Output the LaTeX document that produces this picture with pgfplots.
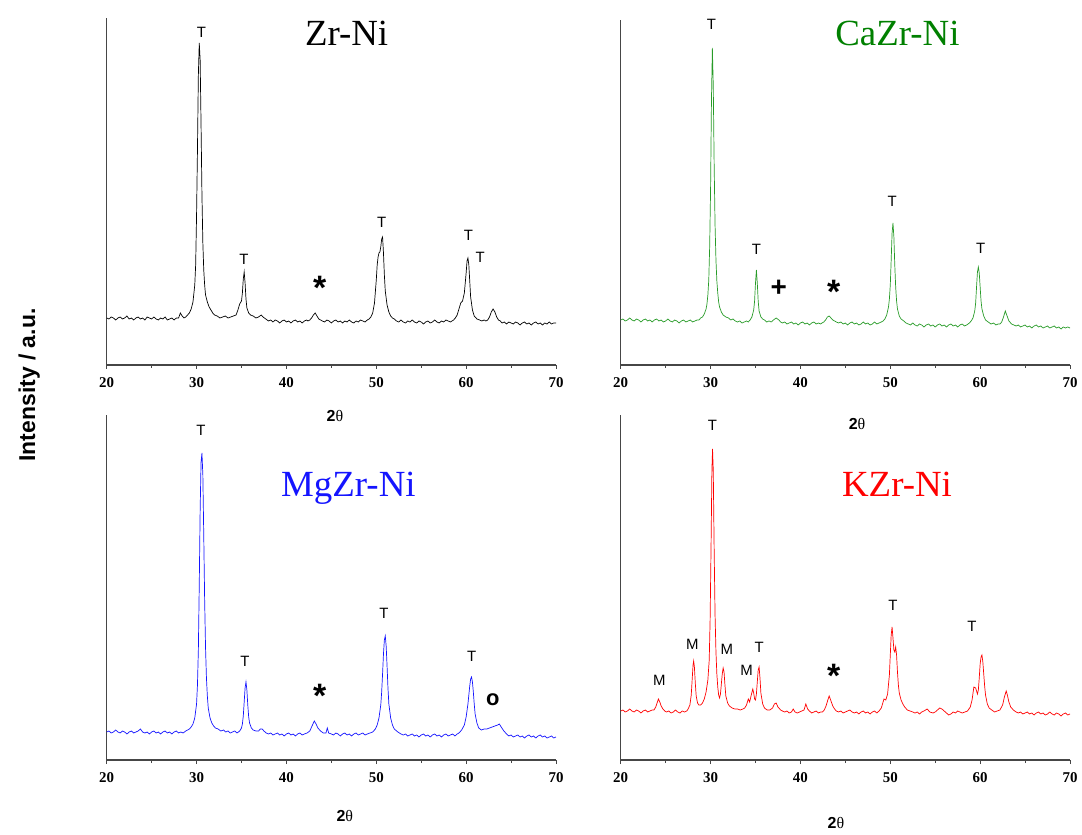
\documentclass[border=0pt]{standalone}
\usepackage{fontspec}
\setmainfont{Liberation Serif}
\newfontfamily\sansf{Liberation Sans}
\usepackage{pgfplots}
\pgfplotsset{compat=1.18}

\definecolor{axgray}{RGB}{70,70,70}
\definecolor{zrblack}{RGB}{0,0,0}
\definecolor{cagreen}{RGB}{40,155,40}
\definecolor{catitle}{RGB}{0,128,0}
\definecolor{mgblue}{RGB}{20,20,255}
\definecolor{kred}{RGB}{255,0,0}

\pgfplotsset{
  xrdpanel/.style={
    scale only axis, width=449.3bp, height=345bp,
    xmin=20, xmax=70, ymin=0, ymax=345,
    axis lines=left, axis line style={-, line width=1.2bp, axgray},
    xtick={20,30,40,50,60,70}, minor xtick={25,35,45,55,65}, ytick=\empty,
    tick align=outside, major tick length=4bp, minor tick length=3bp,
    tick style={axgray, line width=1bp},
    tick label style={font=\fontsize{15}{17}\selectfont\bfseries},
    xticklabel style={yshift=-5bp},
    /pgf/number format/assume math mode=true,
    clip=false, anchor=south west,
  },
}
\tikzset{
  pk/.style={font=\sansf\fontsize{15}{17}\selectfont, inner sep=0pt, anchor=center},
  ast/.style={font=\sansf\bfseries\fontsize{34}{36}\selectfont, inner sep=0pt, anchor=base, yshift=-19.5bp},
  pls/.style={font=\sansf\bfseries\fontsize{28}{30}\selectfont, inner sep=0pt, anchor=base, yshift=-9.7bp},
  ring/.style={font=\sansf\bfseries\fontsize{22}{24}\selectfont, inner sep=0pt, anchor=base, yshift=-5.7bp},
  ttl/.style={font=\fontsize{37}{40}\selectfont, inner sep=0pt, anchor=base},
  twotheta/.style={font=\fontsize{16}{18}\selectfont, inner sep=0pt, anchor=center},
}
\newcommand{\twoth}{{\sansf\bfseries 2}θ}

\begin{document}
\begin{tikzpicture}
\useasboundingbox (0,0) rectangle (1082bp,835bp);

% intensity label shared by all four patterns
\node[rotate=90, anchor=base, inner sep=0pt, font=\sansf\bfseries\fontsize{23}{25}\selectfont] at (35bp,450bp) {Intensity / a.u.};

% ---------------- Zr-Ni ----------------
\begin{axis}[xrdpanel, at={(106.7bp,470bp)}, height=347bp, ymax=347]
\addplot[zrblack, line width=0.7bp] coordinates {
(20,47)(20.25,46)(20.5,48)(20.75,47)(21,45)(21.25,47)(21.5,48)(21.75,46)(22,47)(22.25,49)(22.5,46)(22.75,47)(23,45)(23.25,47)(23.5,48)(23.75,46)(24,47)(24.25,45)(24.5,48)(24.75,47)(25,46)(25.25,48)(25.5,46)(25.75,45)(26,47)(26.25,46)(26.5,48)(26.75,45)(27,46)(27.25,47)(27.5,45)(27.75,47)
(28,47)(28.2,52)(28.4,49)(28.6,47)(28.8,48)(29,50)(29.2,52)(29.4,56)(29.6,63)(29.8,80)(29.9,100)(30,150)(30.1,215)(30.2,290)(30.3,322)(30.4,305)(30.5,240)(30.6,170)(30.7,122)(30.8,95)(30.9,80)(31,70)(31.2,63)(31.4,58)(31.6,55)(31.8,52)(32,50)(32.3,49)(32.6,47)(32.9,48)(33.2,49)(33.5,47)(33.8,48)(34.1,49)
(34.4,50)(34.6,55)(34.8,61)(35,64)(35.1,72)(35.2,86)(35.3,93)(35.4,82)(35.5,66)(35.6,57)(35.8,52)(36,50)(36.3,49)(36.6,47)(36.9,48)(37.2,50)(37.4,48)
(37.7,46)(38,44)(38.25,45)(38.5,43)(38.75,45)(39,44)(39.25,42)(39.5,44)(39.75,45)(40,43)(40.25,44)(40.5,42)(40.75,44)(41,45)(41.25,43)(41.5,44)(41.75,42)(42,44)(42.25,45)(42.4,44)
(42.6,45)(42.8,47)(43,50)(43.2,52)(43.4,49)(43.6,46)(43.8,45)
(44,44)(44.25,43)(44.5,45)(44.75,44)(45,42)(45.25,44)(45.5,45)(45.75,43)(46,44)(46.25,42)(46.5,44)(46.75,43)(47,45)(47.25,43)(47.5,42)(47.75,44)(48,43)(48.25,45)(48.5,44)(48.75,43)
(49,45)(49.2,46)(49.4,48)(49.6,52)(49.8,62)(50,85)(50.1,100)(50.2,108)(50.3,112)(50.4,113)(50.5,118)(50.6,126)(50.7,128)(50.8,112)(50.9,90)(51,74)(51.2,60)(51.4,53)(51.6,49)(51.8,47)(52,46)
(52.25,44)(52.5,43)(52.75,45)(53,43)(53.25,42)(53.5,44)(53.75,43)(54,45)(54.25,43)(54.5,42)(54.75,44)(55,43)(55.25,41)(55.5,43)(55.75,44)(56,42)(56.25,43)(56.5,45)(56.75,43)(57,42)(57.25,44)(57.5,43)(57.75,45)(58,44)(58.25,43)
(58.6,45)(58.8,47)(59,50)(59.2,56)(59.4,62)(59.6,64)(59.8,72)(60,92)(60.1,104)(60.2,107)(60.3,100)(60.4,84)(60.5,68)(60.7,55)(60.9,49)(61.2,46)(61.5,45)
(61.75,44)(62,45)(62.2,44)(62.4,45)(62.6,48)(62.8,53)(63,56)(63.2,53)(63.4,48)(63.6,45)
(63.8,44)(64,42)(64.25,43)(64.5,41)(64.75,43)(65,42)(65.25,41)(65.5,43)(65.75,42)(66,40)(66.25,42)(66.5,43)(66.75,41)(67,42)(67.25,40)(67.5,42)(67.75,43)(68,41)(68.25,42)(68.5,40)(68.75,42)(69,41)(69.25,43)(69.5,41)(69.75,42)(70,42)
};
\node[ttl] at (axis cs:46.7,319.3) {Zr-Ni};
\node[pk] at (axis cs:30.55,333) {T};
\node[pk] at (axis cs:35.26,105.7) {T};
\node[ast] at (axis cs:43.7,85) {*};
\node[pk] at (axis cs:50.6,143) {T};
\node[pk] at (axis cs:60.26,130) {T};
\node[pk] at (axis cs:61.55,107.7) {T};
\node[twotheta] at (axis cs:45.4,-51) {\twoth};
\end{axis}

% ---------------- CaZr-Ni ----------------
\begin{axis}[xrdpanel, at={(620.7bp,470bp)}]
\addplot[cagreen, line width=0.7bp] coordinates {
(20,45)(20.25,46)(20.5,44)(20.75,45)(21,47)(21.25,45)(21.5,44)(21.75,46)(22,45)(22.25,43)(22.5,45)(22.75,46)(23,44)(23.25,45)(23.5,43)(23.75,45)(24,46)(24.25,44)(24.5,45)(24.75,43)(25,44)(25.25,46)(25.5,44)(25.75,43)(26,45)(26.25,44)(26.5,42)(26.75,44)(27,45)(27.25,43)(27.5,44)(27.75,45)(28,43)(28.25,44)(28.5,45)
(28.7,45)(28.9,47)(29.1,48)(29.3,51)(29.5,56)(29.6,61)(29.7,70)(29.8,85)(29.9,118)(30,175)(30.1,265)(30.2,317)(30.3,280)(30.4,200)(30.5,140)(30.6,105)(30.7,84)(30.8,72)(30.9,63)(31,58)(31.2,53)(31.4,50)(31.7,48)(32,47)
(32.25,45)(32.5,46)(32.75,44)(33,43)(33.25,44)(33.5,42)(33.75,43)(34,44)(34.2,43)(34.4,45)
(34.6,48)(34.8,55)(34.9,64)(35,82)(35.1,95)(35.2,82)(35.3,64)(35.4,54)(35.6,48)(35.8,46)(36,45)
(36.25,43)(36.5,44)(36.75,43)(37,45)(37.3,47)(37.6,45)(37.8,43)(38,42)(38.25,43)(38.5,41)(38.75,42)(39,43)(39.25,41)(39.5,42)(39.75,40)(40,42)(40.25,43)(40.5,41)(40.75,42)(41,40)(41.25,42)(41.5,43)(41.75,41)(42,42)(42.25,41)(42.4,42)
(42.6,43)(42.8,45)(43,48)(43.2,49)(43.4,47)(43.6,45)(43.8,44)(44,43)
(44.25,42)(44.5,43)(44.75,41)(45,42)(45.25,40)(45.5,42)(45.75,43)(46,41)(46.25,42)(46.5,40)(46.75,41)(47,43)(47.25,41)(47.5,42)(47.75,40)(48,41)(48.25,43)(48.5,41)(48.75,42)(49,43)
(49.2,44)(49.4,46)(49.6,50)(49.8,58)(49.9,66)(50,80)(50.1,105)(50.2,132)(50.3,142)(50.4,128)(50.5,100)(50.6,78)(50.7,64)(50.8,56)(51,49)(51.2,46)(51.5,44)
(51.75,42)(52,41)(52.25,40)(52.5,42)(52.75,40)(53,39)(53.25,41)(53.5,40)(53.75,38)(54,40)(54.25,41)(54.5,39)(54.75,40)(55,38)(55.25,40)(55.5,41)(55.75,39)(56,40)(56.25,38)(56.5,40)(56.75,41)(57,39)(57.25,40)(57.5,38)(57.75,40)(58,41)(58.25,39)(58.5,40)
(58.8,42)(59,44)(59.2,47)(59.4,54)(59.5,62)(59.6,78)(59.7,93)(59.8,98)(59.9,92)(60,78)(60.1,64)(60.2,56)(60.4,49)(60.6,45)(60.9,43)
(61.2,41)(61.5,42)(61.75,40)(62,41)(62.2,41)(62.4,43)(62.6,48)(62.8,54)(63,49)(63.2,44)(63.5,41)
(63.75,40)(64,39)(64.25,40)(64.5,38)(64.75,39)(65,40)(65.25,38)(65.5,39)(65.75,37)(66,39)(66.25,40)(66.5,38)(66.75,39)(67,37)(67.25,38)(67.5,39)(67.75,37)(68,38)(68.25,39)(68.5,37)(68.75,38)(69,36)(69.25,38)(69.5,37)(69.75,38)(70,37)
};
\node[ttl, text=catitle] at (axis cs:50.8,319.3) {CaZr-Ni};
\node[pk] at (axis cs:30.1,341) {T};
\node[pk] at (axis cs:35.1,115.7) {T};
\node[pls] at (axis cs:37.6,78.3) {+};
\node[ast] at (axis cs:43.7,80.7) {*};
\node[pk] at (axis cs:50.2,163.3) {T};
\node[pk] at (axis cs:60.05,116.7) {T};
\node[twotheta] at (axis cs:46.3,-59) {\twoth};
\end{axis}

% ---------------- MgZr-Ni ----------------
\begin{axis}[xrdpanel, at={(106.7bp,75bp)}]
\addplot[mgblue, line width=0.7bp] coordinates {
(20,28)(20.25,29)(20.5,27)(20.75,28)(21,30)(21.25,28)(21.5,27)(21.75,29)(22,28)(22.25,26)(22.5,28)(22.75,29)(23,27)(23.25,28)(23.5,29)(23.75,31)(24,28)(24.25,27)(24.5,28)(24.75,26)(25,28)(25.25,29)(25.5,27)(25.75,28)(26,26)(26.25,28)(26.5,29)(26.75,27)(27,28)(27.25,26)(27.5,28)(27.75,29)(28,27)(28.25,28)(28.5,27)
(28.8,29)(29,30)(29.2,31)(29.4,33)(29.6,36)(29.8,42)(30,56)(30.1,75)(30.2,110)(30.3,175)(30.4,250)(30.5,298)(30.6,307)(30.7,285)(30.8,225)(30.9,160)(31,112)(31.1,82)(31.2,64)(31.3,52)(31.5,42)(31.7,37)(31.9,34)(32.1,32)(32.4,31)
(32.7,29)(33,30)(33.25,28)(33.5,29)(33.75,27)(34,28)(34.25,29)(34.5,27)(34.8,29)
(35,32)(35.1,36)(35.2,44)(35.3,58)(35.4,72)(35.5,78)(35.6,70)(35.7,55)(35.8,43)(35.9,37)(36.1,32)(36.3,30)(36.6,29)(36.9,29)(37.1,31)(37.3,31)(37.5,29)
(37.75,27)(38,26)(38.25,27)(38.5,25)(38.75,26)(39,27)(39.25,25)(39.5,26)(39.75,24)(40,26)(40.25,27)(40.5,25)(40.75,26)(41,24)(41.25,26)(41.5,27)(41.75,25)(42,26)
(42.3,27)(42.6,29)(42.8,33)(43,37)(43.1,39)(43.3,36)(43.5,32)(43.8,29)(44.1,27)(44.4,27)(44.55,32)(44.7,27)
(45,26)(45.25,25)(45.5,27)(45.75,26)(46,24)(46.25,26)(46.5,27)(46.75,25)(47,26)(47.25,24)(47.5,26)(47.75,27)(48,25)(48.25,26)(48.5,27)(48.75,25)(49,26)(49.3,27)
(49.6,28)(49.9,31)(50.1,35)(50.3,42)(50.5,55)(50.6,68)(50.7,86)(50.8,106)(50.9,120)(51,124)(51.1,114)(51.2,94)(51.3,72)(51.4,56)(51.6,42)(51.8,35)(52,31)(52.4,28)
(52.75,26)(53,25)(53.25,26)(53.5,24)(53.75,25)(54,26)(54.25,24)(54.5,25)(54.75,23)(55,25)(55.25,26)(55.5,24)(55.75,25)(56,23)(56.25,25)(56.5,26)(56.75,24)(57,25)(57.25,23)(57.5,25)(57.75,26)(58,24)(58.25,25)(58.5,26)(58.75,24)(59,26)
(59.2,27)(59.5,30)(59.8,35)(60,43)(60.2,56)(60.3,65)(60.4,74)(60.5,81)(60.6,83)(60.7,78)(60.8,68)(60.9,56)(61,46)(61.2,37)(61.4,32)(61.7,30)
(62,31)(62.3,31)(62.6,32)(62.9,33)(63.2,34)(63.5,35)(63.7,36)(63.9,33)(64.2,29)(64.5,26)
(64.75,24)(65,25)(65.25,23)(65.5,24)(65.75,25)(66,23)(66.25,24)(66.5,22)(66.75,24)(67,25)(67.25,23)(67.5,24)(67.75,22)(68,24)(68.25,25)(68.5,23)(68.75,24)(69,22)(69.25,23)(69.5,24)(69.75,22)(70,23)
};
\node[ttl, text=mgblue] at (axis cs:46.9,263.3) {MgZr-Ni};
\node[pk] at (axis cs:30.48,329.3) {T};
\node[pk] at (axis cs:35.37,98.3) {T};
\node[ast] at (axis cs:43.7,71.7) {*};
\node[pk] at (axis cs:50.85,146.7) {T};
\node[pk] at (axis cs:60.63,103.3) {T};
\node[ring] at (axis cs:62.96,60) {o};
\node[twotheta] at (axis cs:46.5,-56) {\twoth};
\end{axis}

% ---------------- KZr-Ni ----------------
\begin{axis}[xrdpanel, at={(620.7bp,75bp)}]
\addplot[kred, line width=0.7bp] coordinates {
(20,49)(20.25,50)(20.5,48)(20.75,49)(21,51)(21.25,49)(21.5,48)(21.75,50)(22,49)(22.25,47)(22.5,49)(22.75,50)(23,48)(23.25,49)(23.5,50)
(23.7,50)(23.9,53)(24.05,57)(24.2,61)(24.35,58)(24.5,54)(24.7,51)(24.9,49)
(25.1,48)(25.35,49)(25.6,47)(25.85,48)(26.1,50)(26.35,48)(26.6,47)(26.85,49)(27.1,48)(27.35,49)
(27.5,51)(27.7,55)(27.85,65)(27.95,80)(28.05,95)(28.12,99)(28.2,93)(28.3,77)(28.4,64)(28.55,57)(28.7,55)(28.9,55)(29.1,57)(29.3,61)(29.5,68)(29.7,80)(29.85,100)(29.95,140)(30.05,210)(30.15,290)(30.22,311)(30.3,290)(30.4,210)(30.5,145)(30.6,108)(30.7,86)(30.8,73)(30.9,65)(31,62)(31.1,66)(31.2,76)(31.3,86)(31.4,92)(31.5,88)(31.6,75)(31.7,64)(31.9,57)(32.1,54)(32.4,52)(32.7,51)(33,51)(33.3,50)(33.6,51)(33.8,52)
(34,55)(34.2,61)(34.35,58)(34.5,64)(34.7,71)(34.8,67)(34.9,61)(35,60)(35.1,66)(35.2,78)(35.3,90)(35.4,93)(35.5,82)(35.6,67)(35.8,56)(36,52)(36.3,50)(36.6,50)(36.9,52)(37.1,56)(37.3,57)(37.5,53)(37.8,50)
(38,49)(38.25,48)(38.5,49)(38.75,47)(39,48)(39.2,51)(39.4,48)(39.65,47)(39.9,48)(40.15,49)(40.4,50)(40.6,56)(40.8,51)(41,49)(41.25,47)(41.5,48)(41.75,49)(42,47)(42.25,48)(42.45,48)
(42.65,50)(42.85,54)(43.05,60)(43.2,64)(43.4,59)(43.6,54)(43.8,51)(44,49)
(44.25,48)(44.5,49)(44.75,47)(45,48)(45.25,49)(45.5,50)(45.75,48)(46,47)(46.25,48)(46.5,46)(46.75,48)(47,49)(47.25,47)(47.5,48)(47.75,46)(48,48)(48.25,49)(48.5,47)(48.75,49)
(49,52)(49.2,58)(49.3,61)(49.5,60)(49.7,66)(49.9,85)(50,105)(50.1,125)(50.2,133)(50.3,122)(50.4,110)(50.5,108)(50.6,113)(50.7,105)(50.8,88)(50.9,75)(51,67)(51.2,60)(51.4,56)(51.6,53)(51.9,50)(52.2,49)
(52.5,48)(52.75,47)(53,48)(53.25,46)(53.5,48)(53.75,49)(54.1,51)(54.4,48)(54.75,47)(55,48)(55.25,50)(55.5,52)(55.75,51)(56,49)(56.25,47)(56.5,45)(56.75,46)(57,48)(57.25,47)(57.5,49)(57.75,48)(58,47)(58.3,48)
(58.6,49)(58.9,53)(59.1,60)(59.3,73)(59.5,72)(59.7,66)(59.8,70)(59.9,82)(60,96)(60.1,103)(60.2,105)(60.3,98)(60.4,86)(60.5,74)(60.6,65)(60.8,56)(61,52)(61.3,50)
(61.6,48)(61.9,49)(62.2,50)(62.5,55)(62.7,63)(62.9,69)(63,66)(63.2,58)(63.4,53)(63.7,50)(64,48)
(64.25,47)(64.5,48)(64.75,46)(65,47)(65.25,48)(65.5,46)(65.75,47)(66,45)(66.25,47)(66.5,48)(66.75,46)(67,47)(67.25,45)(67.5,46)(67.75,48)(68,46)(68.25,45)(68.5,47)(68.75,46)(69,44)(69.25,46)(69.5,47)(69.75,45)(70,46)
};
\node[ttl, text=kred] at (axis cs:50.75,263.3) {KZr-Ni};
\node[pk] at (axis cs:24.3,79.3) {M};
\node[pk] at (axis cs:27.96,115.7) {M};
\node[pk] at (axis cs:30.2,335) {T};
\node[pk] at (axis cs:31.8,110.7) {M};
\node[pk] at (axis cs:34.0,90) {M};
\node[pk] at (axis cs:35.4,112.7) {T};
\node[ast] at (axis cs:43.7,91.7) {*};
\node[pk] at (axis cs:50.3,154.3) {T};
\node[pk] at (axis cs:59.1,133.3) {T};
\node[twotheta] at (axis cs:43.95,-63) {\twoth};
\end{axis}
\end{tikzpicture}
\end{document}
